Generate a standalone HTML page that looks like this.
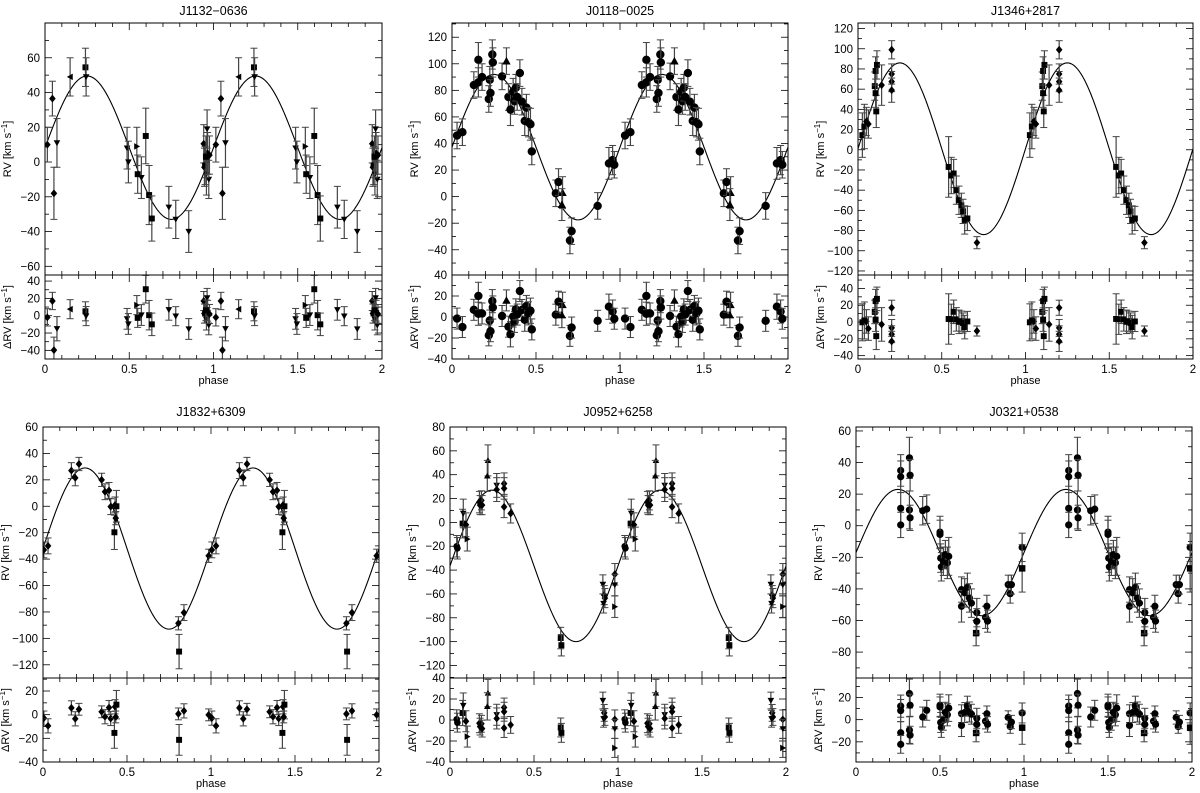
<!DOCTYPE html>
<html><head><meta charset="utf-8"><style>
html,body{margin:0;padding:0;background:#fff}
svg{display:block;font-family:"Liberation Sans",sans-serif}
</style></head><body>
<svg id="fig" width="1200" height="793" viewBox="0 0 1200 793" xmlns="http://www.w3.org/2000/svg"></svg>
<script>
// ---- data ----
const p1_phase=[0.014,0.044,0.053,0.071,0.149,0.24,0.244,0.487,0.495,0.545,0.55,0.572,0.598,0.618,0.634,0.735,0.776,0.853,0.942,0.946,0.95,0.958,0.965,0.962,0.972,0.976,0.955];
const p1_rv=[10,36.5,-18,11,49,54.5,49,8,0,9,-7,-9,15,-19,-32.5,-26,-33,-40,10.5,-3,-2,-7,5,19,-10,4,3];
const p1_err=[10,10,15,14,11,11,11,12,12,11,11,12,16,17,13,12,11,12,11,11,11,12,12,11,11,11,12];
const p1_sym=['d','d','d','v','l','s','v','v','v','r','s','v','s','s','s','v','v','v','d','d','s','v','d','v','v','d','s'];
const p1_model=[8.25,41.25];

const p2_phase=[0.03,0.062,0.13,0.157,0.157,0.179,0.219,0.225,0.229,0.24,0.243,0.298,0.324,0.336,0.348,0.364,0.372,0.38,0.388,0.404,0.416,0.433,0.443,0.455,0.467,0.475,0.618,0.634,0.658,0.654,0.702,0.712,0.867,0.934,0.956,0.966];
const p2_rv=[46,48.5,84,103,86,90,73.5,88,78,107,101,90.5,102,75,65.5,79,72,82,75,93,71.5,57,67,56,54.5,34,2.5,11,3,-6,-33,-26,-7,25,27.5,24];
const p2_err=[10,10,10,13,11,10,10,10,10,11,11,10,10,10,12,10,10,10,10,10,10,11,10,11,12,10,10,10,12,12,10,10,10,12,11,10];
const p2_sym=['o','o','o','o','o','o','o','o','o','o','o','o','^','o','o','o','o','o','o','o','o','o','o','o','o','o','o','o','^','^','o','o','o','o','o','o'];
const p2_model=[37.25,54.75];

const p3_phase=[0.026,0.038,0.05,0.062,0.1,0.105,0.113,0.109,0.105,0.141,0.201,0.201,0.201,0.201,0.541,0.557,0.571,0.587,0.603,0.617,0.627,0.637,0.653,0.71];
const p3_rv=[14.5,23,28,25.5,63,78,84,38,56,64,99,75,67.5,59,-17,-25.5,-23.5,-40,-50,-55,-61,-69.5,-68,-92];
const p3_err=[22,22,14,14,14,14,14,16,14,20,9,10,10,12,30,18,14,14,14,12,12,14,12,6];
const p3_sym=['s','s','d','d','s','s','s','s','s','d','d','d','d','d','s','s','s','s','s','s','s','s','s','d'];
const p3_model=[1,85];

const p4_phase=[0.005,0.03,0.169,0.192,0.214,0.349,0.369,0.393,0.403,0.429,0.437,0.425,0.433,0.806,0.839,0.81,0.986];
const p4_rv=[-33,-30,27,21.5,32,20,11,12,-0.3,1,0,-19.7,-9,-88.6,-80.5,-110,-37.5];
const p4_err=[6,6,6,6,5,5,6,6,6,6,12,13,5,5,6,13,5];
const p4_sym=['d','d','d','d','d','d','d','d','d','d','s','s','d','d','d','s','d'];
const p4_model=[-32,61];

const p5_phase=[0.04,0.044,0.075,0.079,0.095,0.103,0.175,0.179,0.187,0.191,0.226,0.222,0.278,0.278,0.322,0.322,0.322,0.361,0.659,0.663,0.91,0.918,0.922,0.914,0.981,0.981,0.981];
const p5_rv=[-20,-21.7,-1,7.5,-2,-14,17,14.5,18.5,14.5,52,39,31,27.5,32.5,28.5,13,7.5,-97,-103,-52,-61,-63.5,-68,-43.5,-52.5,-70.7];
const p5_err=[9,9,12,12,10,10,9,8,8,8,13,13,10,10,9,9,9,8,9,9,8,8,8,8,9,9,9];
const p5_sym=['o','o','s','v','d','r','d','d','d','d','^','^','v','d','d','d','d','d','s','s','v','d','d','v','d','v','r'];
const p5_model=[-36.5,63.5];

const p6_phase=[0.266,0.266,0.266,0.266,0.318,0.322,0.318,0.322,0.397,0.421,0.5,0.5,0.504,0.508,0.52,0.532,0.544,0.552,0.628,0.628,0.647,0.663,0.675,0.687,0.719,0.715,0.719,0.771,0.779,0.783,0.906,0.918,0.925,0.989,0.989];
const p6_rv=[35,31,11,0.5,43,32,10,5,9.5,10.5,-4,-5.5,-20.5,-26,-22.5,-18.3,-23.5,-19.4,-40.4,-51,-42.5,-39,-45.7,-49,-55,-68,-60.5,-58,-51,-60.4,-37.3,-43,-37.3,-13.7,-27];
const p6_err=[10,10,10,8,13,10,12,8,9,9,10,9,9,9,9,9,10,12,8,10,9,9,9,9,9,8,8,7,7,7,6,6,6,9,15];
const p6_sym=['o','o','o','o','o','o','o','o','o','o','o','o','o','o','o','o','o','o','o','o','o','o','o','o','o','s','o','o','o','o','o','o','o','o','s'];
const p6_model=[-17,40];

// ---- layout (geometry only) ----
const layouts=[
 {name:'J1132\u22120636',x0:45,x1:382,yt:23,ym:275,yb:359,rv:[-65,80],rvT:[-60,-40,-20,0,20,40,60],rs:[-50,47],rsT:[-40,-20,0,20,40],tY:11,ph:[p1_phase,p1_rv,p1_err,p1_sym,p1_model],r:3.3,showPhase:false},
 {name:'J0118\u22120025',x0:452,x1:788,yt:23,ym:275,yb:359,rv:[-59,130.7],rvT:[-40,-20,0,20,40,60,80,100,120],rs:[-40,40],rsT:[-40,-20,0,20,40],tY:11,ph:[p2_phase,p2_rv,p2_err,p2_sym,p2_model],r:4.2,showPhase:true},
 {name:'J1346+2817',x0:858,x1:1193,yt:23,ym:275,yb:359,rv:[-124,125.5],rvT:[-120,-100,-80,-60,-40,-20,0,20,40,60,80,100,120],rs:[-44,56],rsT:[-40,-20,0,20,40],tY:11,ph:[p3_phase,p3_rv,p3_err,p3_sym,p3_model],r:3.3,showPhase:true},
 {name:'J1832+6309',x0:43,x1:379,yt:427,ym:678,yb:762,rv:[-130,60],rvT:[-120,-100,-80,-60,-40,-20,0,20,40,60],rs:[-40,31],rsT:[-40,-20,0,20],tY:412,ph:[p4_phase,p4_rv,p4_err,p4_sym,p4_model],r:3.3,showPhase:true},
 {name:'J0952+6258',x0:450,x1:786,yt:427,ym:678,yb:762,rv:[-130.5,80],rvT:[-120,-100,-80,-60,-40,-20,0,20,40,60,80],rs:[-40,40],rsT:[-40,-20,0,20,40],tY:412,ph:[p5_phase,p5_rv,p5_err,p5_sym,p5_model],r:3.3,showPhase:true},
 {name:'J0321+0538',x0:856,x1:1192,yt:427,ym:678,yb:762,rv:[-96.4,62.5],rvT:[-80,-60,-40,-20,0,20,40,60],rs:[-38.2,37.6],rsT:[-20,0,20],tY:412,ph:[p6_phase,p6_rv,p6_err,p6_sym,p6_model],r:3.6,showPhase:true}
];

const NS='http://www.w3.org/2000/svg';
const svg=document.getElementById('fig');
function mk(tag,attrs,parent){const e=document.createElementNS(NS,tag);for(const k in attrs)e.setAttribute(k,attrs[k]);(parent||svg).appendChild(e);return e;}
function marker(g,sym,x,y,r){
 let e;
 if(sym==='o'){e=mk('circle',{cx:x,cy:y,r:r,fill:'#000'},g);}
 else if(sym==='s'){e=mk('rect',{x:x-r*0.9,y:y-r*0.9,width:r*1.8,height:r*1.8,fill:'#000'},g);}
 else{
  let p;
  if(sym==='d')p=[[x,y-r*1.2],[x+r,y],[x,y+r*1.2],[x-r,y]];
  else if(sym==='v')p=[[x-r,y-r*0.8],[x+r,y-r*0.8],[x,y+r]];
  else if(sym==='^')p=[[x-r,y+r*0.8],[x+r,y+r*0.8],[x,y-r]];
  else if(sym==='l')p=[[x+r*0.8,y-r],[x+r*0.8,y+r],[x-r,y]];
  else p=[[x-r*0.8,y-r],[x-r*0.8,y+r],[x+r,y]];
  e=mk('polygon',{points:p.map(q=>q.join(',')).join(' '),fill:'#000'},g);
 }
 
 
}

layouts.forEach((L,pi)=>{
 const [PH,RV,ER,SY,MOD]=L.ph;
 const g=mk('g',{});
 
 
 const xs=v=>L.x0+(v/2)*(L.x1-L.x0);
 const ys=v=>L.ym-(v-L.rv[0])/(L.rv[1]-L.rv[0])*(L.ym-L.yt);
 const yr=v=>L.yb-(v-L.rs[0])/(L.rs[1]-L.rs[0])*(L.yb-L.ym);
 const model=p=>MOD[0]+MOD[1]*Math.sin(2*Math.PI*p);
 const cx=(L.x0+L.x1)/2;
 const t=mk('text',{x:cx,y:L.tY+4,'text-anchor':'middle','font-size':12.5,fill:'#000'},g);
 t.textContent=L.name;
 
 
 // clip
 const cid='c'+pi, rid='r'+pi;
 const cp=mk('clipPath',{id:cid},g);mk('rect',{x:L.x0,y:L.yt,width:L.x1-L.x0,height:L.ym-L.yt},cp);
 const rp=mk('clipPath',{id:rid},g);mk('rect',{x:L.x0,y:L.ym,width:L.x1-L.x0,height:L.yb-L.ym},rp);
 // ticks
 const tk=mk('g',{stroke:'#000','stroke-width':0.8},g);
 
 
 for(let i=0;i<=20;i++){
  const x=xs(i/10), len=(i%5===0)?7:4;
  [[L.yt,1],[L.ym,-1],[L.ym,1],[L.yb,-1]].forEach(([y,d])=>mk('line',{x1:x,x2:x,y1:y,y2:y+d*len},tk));
 }
 const minorY=(lo,hi,step,fn,y0,y1)=>{
  for(let v=Math.ceil(lo/step)*step;v<=hi;v+=step){
   const y=fn(v), maj=Math.abs(v%20)<1e-6, len=maj?7:4;
   mk('line',{x1:L.x0,x2:L.x0+len,y1:y,y2:y},tk);
   mk('line',{x1:L.x1,x2:L.x1-len,y1:y,y2:y},tk);
  }
 };
 minorY(L.rv[0],L.rv[1],10,ys);
 minorY(L.rs[0],L.rs[1],10,yr);
 // tick labels
 L.rvT.forEach(v=>{const e=mk('text',{x:L.x0-5,y:ys(v)+4,'text-anchor':'end','font-size':11.5,fill:'#000'},g);e.textContent=v<0?'\u2212'+(-v):String(v);
  });
 L.rsT.forEach(v=>{const e=mk('text',{x:L.x0-5,y:yr(v)+4,'text-anchor':'end','font-size':11.5,fill:'#000'},g);e.textContent=v<0?'\u2212'+(-v):String(v);
  });
 ['0','0.5','1','1.5','2'].forEach((s,i)=>{const e=mk('text',{x:xs(i*0.5),y:L.yb+14,'text-anchor':'middle','font-size':11.5,fill:'#000'},g);e.textContent=s;
  });
 const pl=mk('text',{x:cx,y:L.yb+25,'text-anchor':'middle','font-size':11,fill:'#000'},g);pl.textContent='phase';
 
 const ax=L.x0-34;
 const t1=mk('text',{x:ax,y:(L.yt+L.ym)/2,'text-anchor':'middle','font-size':11,fill:'#000',transform:`rotate(-90 ${ax} ${(L.yt+L.ym)/2})`},g);
 t1.innerHTML='RV [km s<tspan dy="-4" font-size="8">\u22121</tspan><tspan dy="4">]</tspan>';
 
 const t2=mk('text',{x:ax,y:(L.ym+L.yb)/2,'text-anchor':'middle','font-size':11,fill:'#000',transform:`rotate(-90 ${ax} ${(L.ym+L.yb)/2})`},g);
 t2.innerHTML='\u0394RV [km s<tspan dy="-4" font-size="8">\u22121</tspan><tspan dy="4">]</tspan>';
 
 // model curve
 let d='';
 for(let i=0;i<=400;i++){const p=i/200;d+=(i?'L':'M')+xs(p).toFixed(2)+','+ys(model(p)).toFixed(2);}
 const c=mk('path',{d:d,fill:'none',stroke:'#000','stroke-width':1.1,'clip-path':`url(#${cid})`},g);
 
 // points
 const gp=mk('g',{'clip-path':`url(#${cid})`},g);
 
 const gr=mk('g',{'clip-path':`url(#${rid})`},g);
 
 for(let k=0;k<2;k++){
  PH.forEach((p,i)=>{
   const x=xs(p+k);
   const res=RV[i]-model(p);
   [[gp,ys,RV[i]],[gr,yr,res]].forEach(([gg,fn,v])=>{
    const ya=fn(v+ER[i]), yb=fn(v-ER[i]);
    mk('line',{x1:x,x2:x,y1:ya,y2:yb,stroke:'#444','stroke-width':1.2},gg);
    mk('line',{x1:x-3.5,x2:x+3.5,y1:ya,y2:ya,stroke:'#444','stroke-width':1},gg);
    mk('line',{x1:x-3.5,x2:x+3.5,y1:yb,y2:yb,stroke:'#444','stroke-width':1},gg);
    marker(gg,SY[i],x,fn(v),L.r);
   });
  });
 }
 // frames
 const f1=mk('rect',{x:L.x0,y:L.yt,width:L.x1-L.x0,height:L.ym-L.yt,fill:'none',stroke:'#000','stroke-width':1},g);
 
 const f2=mk('rect',{x:L.x0,y:L.ym,width:L.x1-L.x0,height:L.yb-L.ym,fill:'none',stroke:'#000','stroke-width':1},g);
 
});
</script>
</body></html>
